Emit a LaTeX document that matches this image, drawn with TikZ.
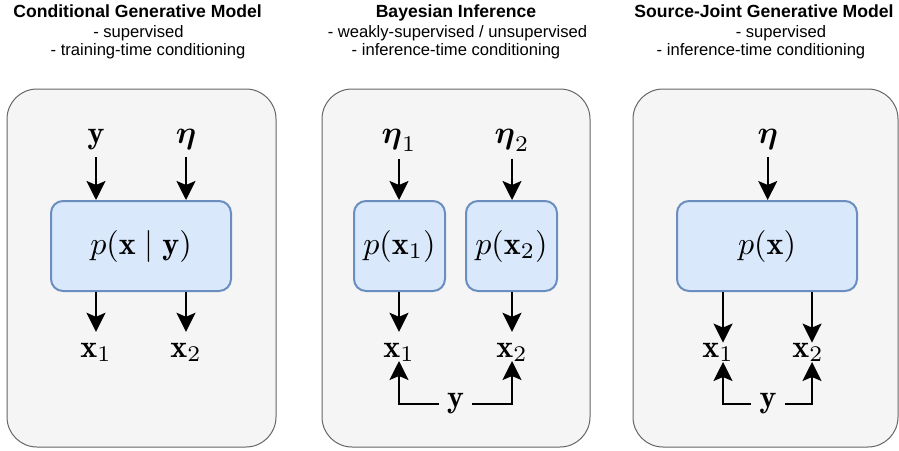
\documentclass[tikz,border=0pt]{standalone}
\usepackage{amsmath,amsbsy}
\usepackage{graphicx}
\usepackage{fontspec}
\newfontfamily\titlefont{Liberation Sans}
\usetikzlibrary{arrows.meta}
\definecolor{bline}{HTML}{6C8EBF}
\definecolor{bfill}{HTML}{DAE8FC}
\definecolor{pline}{HTML}{666666}
\definecolor{pfill}{HTML}{F5F5F5}
\newcommand{\Mth}[1]{\scalebox{3.2}{$#1$}}
\begin{document}
\begin{tikzpicture}[x=1pt,y=-1pt,
  panel/.style={draw=pline, fill=pfill, line width=1pt, rounded corners=30pt, inner sep=0pt},
  model/.style={draw=bline, fill=bfill, line width=2pt, rounded corners=12pt, inner sep=0pt},
  lab/.style={inner sep=0pt},
  ylab/.style={inner sep=0pt, inner xsep=8pt},
  arr/.style={line width=2pt, -{Stealth[length=19pt,width=19pt,inset=4pt]}},
  ttl/.style={font=\fontsize{17.6}{21}\titlefont\bfseries, anchor=base, inner sep=0pt},
  sub/.style={font=\fontsize{16.6}{20}\titlefont, anchor=base, inner sep=0pt}]
\useasboundingbox (0,0) rectangle (899,450);
\fill[white] (0,0) rectangle (899,450);

% ---------- titles
\node[ttl] (T1) at (137.5,17.5) {Conditional Generative Model};
\node[sub] (T1a) at (138.5,37.5) {- supervised};
\node[sub] (T1b) at (148,55.5) {- training-time conditioning};
\node[ttl] (T2) at (456,17.5) {Bayesian Inference};
\node[sub] (T2a) at (457.5,37.5) {- weakly-supervised / unsupervised};
\node[sub] (T2b) at (456,55.5) {- inference-time conditioning};
\node[ttl] (T3) at (764,17.5) {Source-Joint Generative Model};
\node[sub] (T3a) at (781,37.5) {- supervised};
\node[sub] (T3b) at (761,55.5) {- inference-time conditioning};

% ---------- panels
\node[panel, minimum width=269pt, minimum height=358pt] (P1) at (141.5,268) {};
\node[panel, minimum width=268pt, minimum height=358pt] (P2) at (456,268) {};
\node[panel, minimum width=265pt, minimum height=358pt] (P3) at (765.5,268) {};

% ---------- panel 1
\node[model, minimum width=180pt, minimum height=90pt] (B1) at (141,246) {\Mth{p(\mathbf{x}\mid\mathbf{y})}};
\node[lab, anchor=base] (Y1) at (96,143.5) {\Mth{\mathbf{y}}};
\node[lab, anchor=base] (E1) at (186,143.5) {\Mth{\boldsymbol{\eta}}};
\node[lab, anchor=base] (X11) at (96,357) {\Mth{\mathbf{x}_1}};
\node[lab, anchor=base] (X12) at (186,357) {\Mth{\mathbf{x}_2}};
\draw[arr, shorten <=7pt] (Y1) -- (Y1 |- B1.north);
\draw[arr, shorten <=7pt] (E1) -- (E1 |- B1.north);
\draw[arr, shorten >=10.8pt] (B1.south -| X11) -- (X11);
\draw[arr, shorten >=10.8pt] (B1.south -| X12) -- (X12);

% ---------- panel 2
\node[model, minimum width=91pt, minimum height=90pt] (B21) at (399.5,246) {\Mth{p(\mathbf{x}_1)}};
\node[model, minimum width=91pt, minimum height=90pt] (B22) at (511.5,246) {\Mth{p(\mathbf{x}_2)}};
\node[lab, anchor=base] (E21) at (399,143.5) {\Mth{\boldsymbol{\eta}_1}};
\node[lab, anchor=base] (E22) at (512,143.5) {\Mth{\boldsymbol{\eta}_2}};
\node[lab, anchor=base] (X21) at (399,357) {\Mth{\mathbf{x}_1}};
\node[lab, anchor=base] (X22) at (512,357) {\Mth{\mathbf{x}_2}};
\node[ylab] (Y2) at (455.5,403.5) {\Mth{\mathbf{y}}};
\draw[arr, shorten <=7pt] (E21) -- (E21 |- B21.north);
\draw[arr, shorten <=7pt] (E22) -- (E22 |- B22.north);
\draw[arr, shorten >=10.8pt] (B21.south -| X21) -- (X21);
\draw[arr, shorten >=10.8pt] (B22.south -| X22) -- (X22);
\draw[arr, shorten >=-1pt] (Y2.west) -| (X21);
\draw[arr, shorten >=-1pt] (Y2.east) -| (X22);

% ---------- panel 3
\node[model, minimum width=180pt, minimum height=90pt] (B3) at (767,246) {\Mth{p(\mathbf{x})}};
\node[lab, anchor=base] (E3) at (767.7,143.5) {\Mth{\boldsymbol{\eta}}};
\coordinate (C31) at (723,357);
\coordinate (C32) at (812,357);
\node[lab, anchor=base] (X31) at (718,357) {\Mth{\mathbf{x}_1}};
\node[lab, anchor=base] (X32) at (808,357) {\Mth{\mathbf{x}_2}};
\node[ylab] (Y3) at (768,403.5) {\Mth{\mathbf{y}}};
\draw[arr, shorten <=7pt] (E3) -- (E3 |- B3.north);
\draw[arr] (B3.south -| C31) -- (C31 |- X31.north);
\draw[arr] (B3.south -| C32) -- (C32 |- X32.north);
\draw[arr] (Y3.west) -| (C31 |- X31.south);
\draw[arr] (Y3.east) -| (C32 |- X32.south);
\end{tikzpicture}
\end{document}
